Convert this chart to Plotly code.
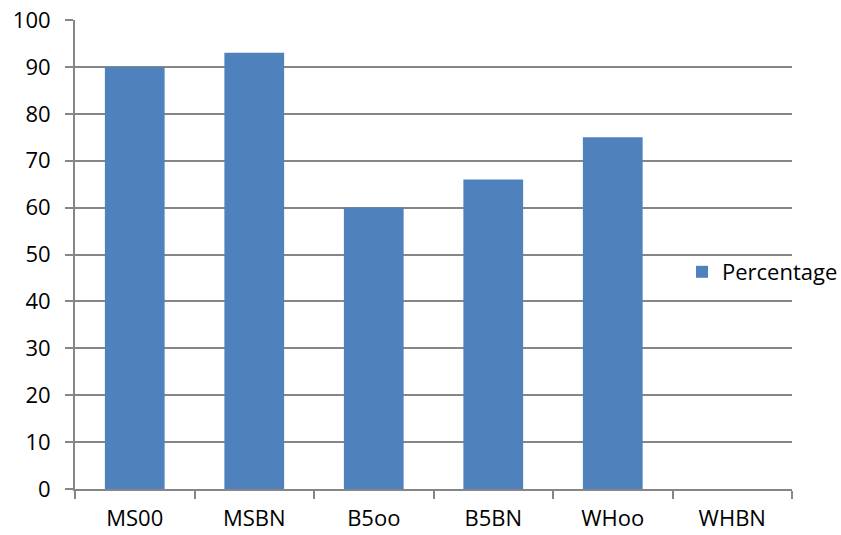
import plotly.graph_objects as go

categories = ["MS00", "MSBN", "B5oo", "B5BN", "WHoo", "WHBN"]
percentage = [90, 93, 60, 66, 75, 0]
y_ticks = [0, 10, 20, 30, 40, 50, 60, 70, 80, 90, 100]

GRID = "#868686"
FONT = dict(family="Open Sans, Calibri, sans-serif", size=22, color="#000000")

fig = go.Figure()
fig.add_trace(go.Bar(
    x=categories,
    y=percentage,
    name="Percentage",
    marker=dict(color="#4F81BD", line=dict(width=0)),
    showlegend=True,
))

fig.update_layout(
    width=841,
    height=535,
    margin=dict(l=75, r=49, t=20, b=46, autoexpand=False),
    paper_bgcolor="white",
    plot_bgcolor="white",
    font=FONT,
    bargap=0.5,
    showlegend=True,
    legend=dict(
        xref="container", yref="container",
        x=682 / 841, y=1 - 272 / 535,
        xanchor="left", yanchor="middle",
        bgcolor="rgba(0,0,0,0)",
        font=FONT,
    ),
    xaxis=dict(
        type="category",
        showline=True, linecolor=GRID, linewidth=2,
        ticks="outside", ticklen=8, tickwidth=2, tickcolor=GRID,
        tickson="boundaries",
        showgrid=False,
        tickfont=FONT,
        ticklabelstandoff=9,
    ),
    yaxis=dict(
        range=[0, 100],
        tickvals=y_ticks,
        showline=True, linecolor=GRID, linewidth=2,
        ticks="outside", ticklen=8, tickwidth=2, tickcolor=GRID,
        showgrid=True, gridcolor=GRID, gridwidth=2,
        zeroline=False,
        tickfont=FONT,
        ticklabelstandoff=10,
    ),
)

fig.write_html("out.html")
